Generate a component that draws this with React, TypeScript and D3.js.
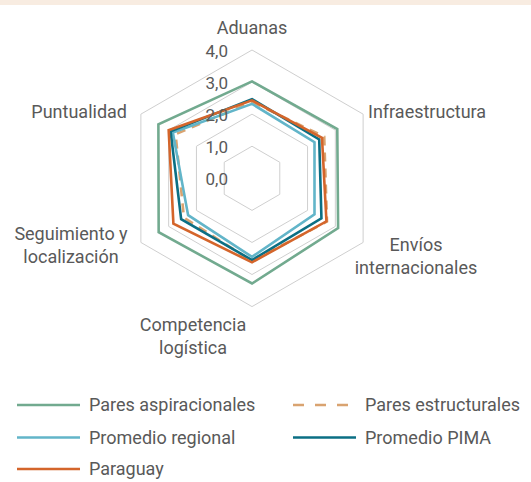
import React, { useEffect, useRef } from "react";
import * as d3 from "d3";

// axis names (clockwise from top)
const axes = [
  ["Aduanas"],
  ["Infraestructura"],
  ["Envíos", "internacionales"],
  ["Competencia", "logística"],
  ["Seguimiento y", "localización"],
  ["Puntualidad"],
];

const tickValues = [0, 1, 2, 3, 4];
const tickLabels = ["0,0", "1,0", "2,0", "3,0", "4,0"];

const seriesNames = [
  "Pares aspiracionales",
  "Pares estructurales",
  "Promedio regional",
  "Promedio PIMA",
  "Paraguay",
];

const paresAspiracionales = [3.02, 3.07, 3.1, 3.28, 3.36, 3.37];
const paresEstructurales = [2.38, 2.6, 2.7, 2.58, 2.45, 2.75];
const promedioRegional = [2.32, 2.25, 2.25, 2.45, 2.3, 2.85];
const promedioPIMA = [2.47, 2.42, 2.5, 2.55, 2.55, 2.93];
const paraguay = [2.43, 2.52, 2.68, 2.62, 2.83, 3.0];

const seriesValues = [
  paresAspiracionales,
  paresEstructurales,
  promedioRegional,
  promedioPIMA,
  paraguay,
];

const colors = ["#72aa8f", "#d9a370", "#62b5c9", "#0b6f84", "#d4652b"];
const dashes = [null, "9,7", null, null, null];

const W = 531;
const H = 482;
const FONT = "Roboto, 'Noto Sans', sans-serif";
const TEXT = "#595959";

const App = () => {
  const svgRef = useRef<SVGSVGElement>(null);

  useEffect(() => {
    const svg = d3.select(svgRef.current);
    svg.selectAll("*").remove();

    const cx = 252;
    const cy = 178.3;
    const r = d3.scaleLinear().domain([0, 4]).range([0, 128.3]);
    const angle = d3
      .scaleLinear()
      .domain([0, axes.length])
      .range([0, 2 * Math.PI]);

    svg.append("rect").attr("width", W).attr("height", H).attr("fill", "#fff");
    svg.append("rect").attr("width", W).attr("height", 5).attr("fill", "#f8ece1");

    const g = svg.append("g").attr("transform", `translate(${cx},${cy})`);

    const radial = d3
      .lineRadial<number>()
      .angle((d, i) => angle(i))
      .radius((d) => r(d))
      .curve(d3.curveLinearClosed);

    // grid hexagons
    tickValues
      .filter((t) => t > 0)
      .forEach((t) => {
        g.append("path")
          .attr("d", radial(axes.map(() => t)))
          .attr("fill", "none")
          .attr("stroke", "#cfcfcf")
          .attr("stroke-width", 1);
      });

    // series
    seriesValues.forEach((vals, i) => {
      g.append("path")
        .attr("d", radial(vals))
        .attr("fill", "none")
        .attr("stroke", colors[i])
        .attr("stroke-width", 2.6)
        .attr("stroke-linejoin", "miter")
        .attr("stroke-dasharray", dashes[i]);
    });

    // tick labels
    tickValues.forEach((t, i) => {
      svg
        .append("text")
        .attr("x", 228)
        .attr("y", cy - r(t) + 1)
        .attr("dy", "0.35em")
        .attr("text-anchor", "end")
        .attr("font-family", FONT)
        .attr("font-size", "17px")
        .attr("fill", TEXT)
        .text(tickLabels[i]);
    });

    // axis labels
    const labelPos = [
      { x: cx, y: 28, anchor: "middle" },
      { x: 368, y: 112, anchor: "start" },
      { x: 416, y: 256, anchor: "middle" },
      { x: 193, y: 336, anchor: "middle" },
      { x: 71, y: 245, anchor: "middle" },
      { x: 127, y: 112, anchor: "end" },
    ];
    axes.forEach((lines, i) => {
      const p = labelPos[i];
      const lh = 23.5;
      const top = p.y - ((lines.length - 1) * lh) / 2;
      lines.forEach((line, j) => {
        svg
          .append("text")
          .attr("x", p.x)
          .attr("y", top + j * lh)
          .attr("dy", "0.35em")
          .attr("text-anchor", p.anchor)
          .attr("font-family", FONT)
          .attr("font-size", "18px")
          .attr("fill", TEXT)
          .text(line);
      });
    });

    // legend
    const legendX = [17, 293];
    const legendY = [405, 437.5, 469];
    seriesNames.forEach((name, i) => {
      const lx = legendX[i % 2];
      const ly = legendY[Math.floor(i / 2)];
      svg
        .append("line")
        .attr("x1", lx)
        .attr("x2", lx + 63)
        .attr("y1", ly)
        .attr("y2", ly)
        .attr("stroke", colors[i])
        .attr("stroke-width", 2.6)
        .attr("stroke-dasharray", dashes[i] ? "11,11" : null);
      svg
        .append("text")
        .attr("x", lx + 72)
        .attr("y", ly)
        .attr("dy", "0.35em")
        .attr("font-family", FONT)
        .attr("font-size", "18px")
        .attr("fill", TEXT)
        .text(name);
    });
  }, []);

  return (
    <div style={{ position: "absolute", left: 0, top: 0 }}>
      <svg ref={svgRef} width={W} height={H} style={{ display: "block" }}></svg>
    </div>
  );
};

export default App;
